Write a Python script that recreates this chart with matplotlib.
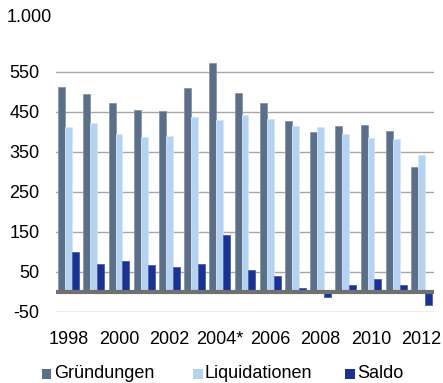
import matplotlib
matplotlib.use("Agg")
import matplotlib.pyplot as plt
from matplotlib.patches import Rectangle
import numpy as np

plt.rcParams['font.family'] = ['Liberation Sans', 'DejaVu Sans']

# Data
years = list(range(1998, 2013))
year_labels = ["1998", "2000", "2002", "2004*", "2006", "2008", "2010", "2012"]
gruendungen = [512, 493, 472, 454, 451, 508, 572, 496, 471, 426, 398, 413, 417, 401, 311]
liquidationen = [412, 422, 393, 386, 388, 437, 429, 442, 431, 414, 411, 393, 383, 382, 342]
saldo = [99, 69, 77, 67, 62, 69, 143, 54, 39, 9, -12, 18, 32, 17, -32]
series_names = ["Gründungen", "Liquidationen", "Saldo"]
y_ticks = [-50, 50, 150, 250, 350, 450, 550]
top_label = "1.000"

colors = ["#5B7088", "#B5D3F0", "#1B3293"]
edges = ["#8496AA", "#D4E6F8", "#4A5EB0"]

W, H = 443, 383
fig = plt.figure(figsize=(W / 100, H / 100), dpi=100)

def fx(px):
    return px / W

def fy(py):
    return (H - py) / H

ax = fig.add_axes([fx(56), fy(311.7), fx(434) - fx(56), fy(31.7) - fy(311.7)])

x = np.arange(len(years))
bw = 0.275
for i, vals in enumerate([gruendungen, liquidationen, saldo]):
    ax.bar(x + (i - 1) * bw, vals, width=bw, color=colors[i],
           edgecolor=edges[i], linewidth=0.6, zorder=2)

ax.axhline(0, color="#707070", linewidth=3, zorder=3)

ax.set_xlim(-0.5, len(years) - 0.5)
ax.set_ylim(-50, 650)
ax.set_yticks(y_ticks)
ax.set_yticklabels([str(v) for v in y_ticks])
ax.set_xticks(x[::2])
ax.set_xticklabels(year_labels)
ax.tick_params(axis="both", length=0, labelsize=13, colors="black")
ax.tick_params(axis="y", pad=12)
ax.tick_params(axis="x", pad=14)
ax.yaxis.grid(True, color="#A6A6A6", linewidth=1.0, zorder=0)
ax.set_axisbelow(True)
for s in ax.spines.values():
    s.set_visible(False)

fig.text(fx(7), fy(18), top_label, fontsize=13, ha="left", va="center")

# Legend drawn as colored squares with labels
legend_x = [41.7, 193, 345]
for i, name in enumerate(series_names):
    fig.add_artist(Rectangle((fx(legend_x[i]), fy(378.5)), fx(9.5), fy(368.5) - fy(378.5),
                             transform=fig.transFigure, facecolor=colors[i],
                             edgecolor="none"))
    fig.text(fx(legend_x[i] + 12), fy(378.3), name, fontsize=13,
             ha="left", va="baseline")

fig.savefig("out.png", dpi=100)
